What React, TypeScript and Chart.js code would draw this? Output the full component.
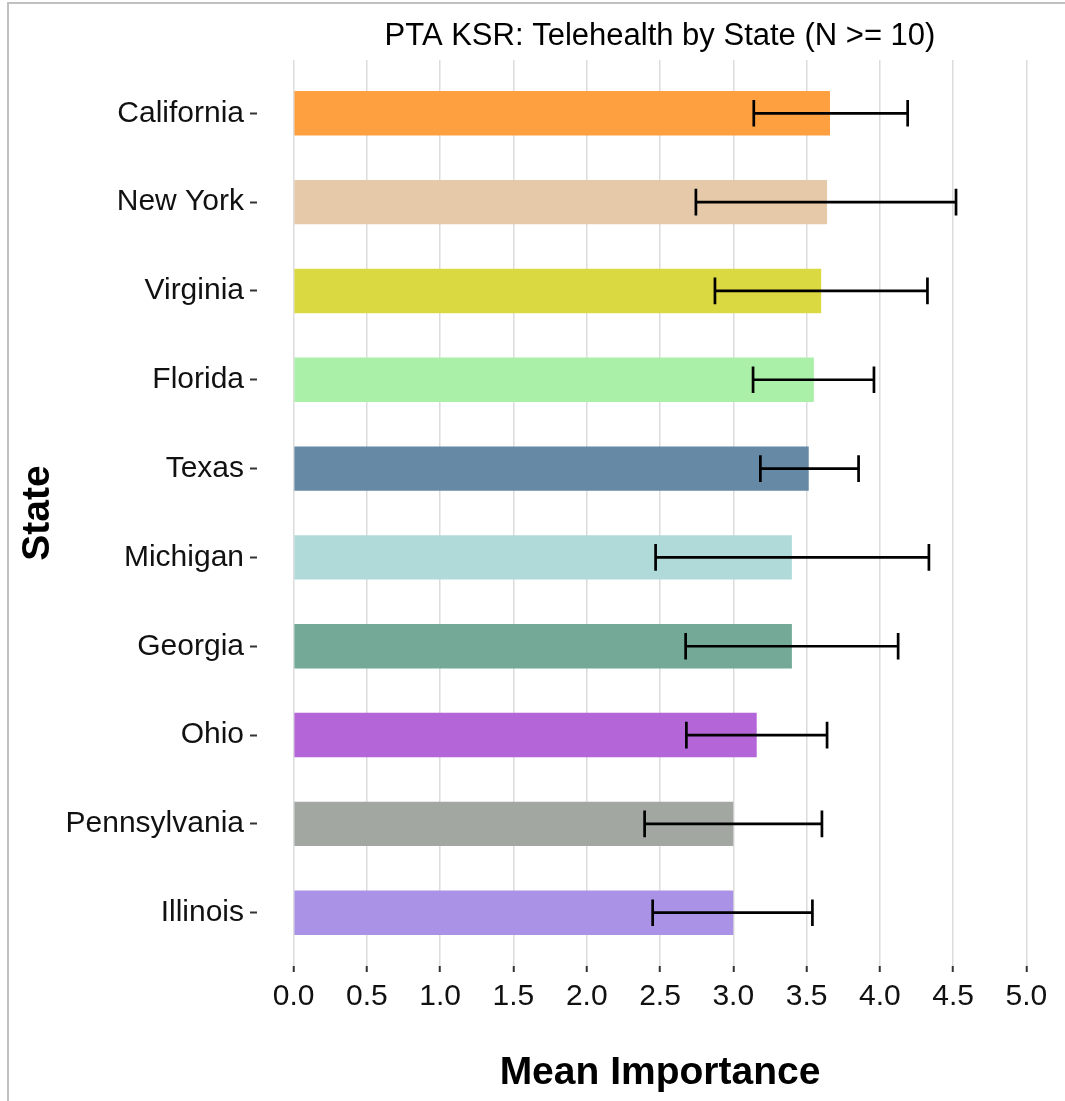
import React, { useEffect, useRef } from "react";
import { Chart, registerables } from "chart.js";

Chart.register(...registerables);

const chartTitle = "PTA KSR: Telehealth by State (N >= 10)";
const xAxisTitle = "Mean Importance";
const yAxisTitle = "State";

const states = [
  "California",
  "New York",
  "Virginia",
  "Florida",
  "Texas",
  "Michigan",
  "Georgia",
  "Ohio",
  "Pennsylvania",
  "Illinois",
];
const means = [3.66, 3.64, 3.6, 3.55, 3.515, 3.4, 3.4, 3.16, 3.0, 3.0];
const lowers = [3.14, 2.745, 2.875, 3.135, 3.185, 2.47, 2.675, 2.68, 2.395, 2.45];
const uppers = [4.19, 4.52, 4.325, 3.96, 3.855, 4.335, 4.125, 3.64, 3.605, 3.54];
const barColors = [
  "#FFA040",
  "#E6C9A8",
  "#DBD942",
  "#ABF0A8",
  "#6689A6",
  "#B0DADA",
  "#73A996",
  "#B466D9",
  "#A2A8A1",
  "#AA93E6",
];
const xTicks = [0, 0.5, 1, 1.5, 2, 2.5, 3, 3.5, 4, 4.5, 5];

const FONT = "'Liberation Sans', Arial, Helvetica, sans-serif";

const errorBarPlugin = {
  id: "errorBars",
  afterDatasetsDraw(chart: any) {
    const { ctx } = chart;
    const xs = chart.scales.x;
    const ys = chart.scales.y;
    ctx.save();
    ctx.strokeStyle = "#000000";
    ctx.lineWidth = 2.7;
    ctx.lineCap = "butt";
    for (let i = 0; i < states.length; i++) {
      const x1 = xs.getPixelForValue(lowers[i]);
      const x2 = xs.getPixelForValue(uppers[i]);
      const y = ys.getPixelForValue(i);
      const yTop = ys.getPixelForValue(i - 0.15);
      const yBot = ys.getPixelForValue(i + 0.15);
      ctx.beginPath();
      ctx.moveTo(x1, y);
      ctx.lineTo(x2, y);
      ctx.moveTo(x1, yTop);
      ctx.lineTo(x1, yBot);
      ctx.moveTo(x2, yTop);
      ctx.lineTo(x2, yBot);
      ctx.stroke();
    }
    ctx.restore();
  },
};

export default function App() {
  const canvasRef = useRef<HTMLCanvasElement | null>(null);

  useEffect(() => {
    if (!canvasRef.current) return;
    Chart.defaults.font.family = FONT;
    const chart = new Chart(canvasRef.current, {
      type: "bar",
      data: {
        datasets: [
          {
            data: states.map((_, i) => ({ x: means[i], y: i })),
            backgroundColor: barColors,
            borderWidth: 0,
            barPercentage: 0.5,
            categoryPercentage: 1,
          },
        ],
      },
      options: {
        indexAxis: "y",
        animation: false,
        responsive: false,
        maintainAspectRatio: false,
        layout: { padding: { left: 0, right: 2, top: 0, bottom: 0 } },
        plugins: {
          legend: { display: false },
          tooltip: { enabled: false },
          title: { display: false },
        },
        scales: {
          x: {
            type: "linear",
            position: "bottom",
            min: -0.25,
            max: 5.25,
            offset: false,
            afterBuildTicks: (axis: any) => {
              axis.ticks = xTicks.map((v) => ({ value: v }));
            },
            afterFit: (scale: any) => {
              scale.height = 135;
            },
            grid: {
              display: true,
              offset: false,
              drawOnChartArea: true,
              color: "#dcdcdc",
              lineWidth: 1.5,
              drawTicks: true,
              tickLength: 6,
              tickColor: "#333333",
              tickWidth: 2,
            },
            border: { display: false },
            ticks: {
              autoSkip: false,
              maxRotation: 0,
              padding: 7,
              color: "#111111",
              font: { size: 30, family: FONT },
              callback: (v: any) => Number(v).toFixed(1),
            },
            title: {
              display: true,
              text: xAxisTitle,
              color: "#000000",
              font: { size: 39, weight: "bold", family: FONT },
              padding: { top: 0, bottom: 4 },
            },
          },
          x2: {
            type: "linear",
            position: "top",
            display: true,
            afterFit: (scale: any) => {
              scale.height = 60;
            },
            grid: { display: false, drawTicks: false },
            border: { display: false },
            ticks: { display: false },
            title: {
              display: true,
              text: chartTitle,
              color: "#000000",
              font: { size: 31, family: FONT },
              padding: { top: 18, bottom: 0 },
            },
          },
          y: {
            type: "linear",
            position: "left",
            reverse: true,
            min: -0.6,
            max: 9.6,
            offset: false,
            afterBuildTicks: (axis: any) => {
              axis.ticks = states.map((_, i) => ({ value: i }));
            },
            afterFit: (scale: any) => {
              scale.width = 257;
            },
            grid: {
              display: true,
              offset: false,
              drawOnChartArea: false,
              drawTicks: true,
              tickLength: 7,
              tickColor: "#333333",
              tickWidth: 2,
            },
            border: { display: false },
            ticks: {
              autoSkip: false,
              padding: 6,
              color: "#111111",
              font: { size: 30, family: FONT },
              callback: (v: any) => states[Math.round(Number(v))] ?? "",
            },
            title: {
              display: true,
              text: yAxisTitle,
              color: "#000000",
              font: { size: 39, weight: "bold", family: FONT },
              padding: { top: 15, bottom: 0 },
            },
          },
        },
      } as any,
      plugins: [errorBarPlugin],
    });
    return () => chart.destroy();
  }, []);

  return (
    <div
      style={{
        position: "absolute",
        left: 0,
        top: 0,
        width: 1065,
        height: 1101,
        background: "#ffffff",
        overflow: "hidden",
      }}
    >
      <canvas
        ref={canvasRef}
        width={1065}
        height={1101}
        style={{ position: "absolute", left: 0, top: 0, width: 1065, height: 1101 }}
      />
      <div
        style={{
          position: "absolute",
          left: 7,
          top: 2,
          width: 2,
          height: 1099,
          background: "#c0c0c0",
        }}
      />
      <div
        style={{
          position: "absolute",
          left: 7,
          top: 2,
          width: 1058,
          height: 2,
          background: "#c0c0c0",
        }}
      />
    </div>
  );
}
